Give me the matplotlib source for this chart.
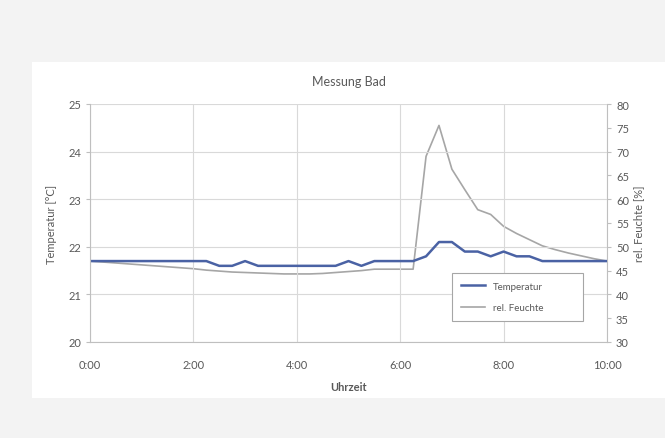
import numpy as np
import matplotlib
matplotlib.use("Agg")
import matplotlib.pyplot as plt
from matplotlib.patches import Rectangle

plt.rcParams['font.family'] = ['Lato', 'DejaVu Sans']

# Messwerte alle 15 Minuten
uhrzeit = ["0:00", "0:15", "0:30", "0:45", "1:00", "1:15", "1:30", "1:45",
           "2:00", "2:15", "2:30", "2:45", "3:00", "3:15", "3:30", "3:45",
           "4:00", "4:15", "4:30", "4:45", "5:00", "5:15", "5:30", "5:45",
           "6:00", "6:15", "6:30", "6:45", "7:00", "7:15", "7:30", "7:45",
           "8:00", "8:15", "8:30", "8:45", "9:00", "9:15", "9:30", "9:45",
           "10:00"]
temperatur = [21.7, 21.7, 21.7, 21.7, 21.7, 21.7, 21.7, 21.7,
              21.7, 21.7, 21.6, 21.6, 21.7, 21.6, 21.6, 21.6,
              21.6, 21.6, 21.6, 21.6, 21.7, 21.6, 21.7, 21.7,
              21.7, 21.7, 21.8, 22.1, 22.1, 21.9, 21.9, 21.8,
              21.9, 21.8, 21.8, 21.7, 21.7, 21.7, 21.7, 21.7,
              21.7]
feuchte = [47.0, 46.8, 46.6, 46.4, 46.2, 46.0, 45.8, 45.6,
           45.4, 45.1, 44.9, 44.7, 44.6, 44.5, 44.4, 44.3,
           44.3, 44.3, 44.4, 44.6, 44.8, 45.0, 45.3, 45.3,
           45.3, 45.3, 69.0, 75.5, 66.3, 62.0, 57.8, 56.8,
           54.3, 52.8, 51.5, 50.2, 49.4, 48.7, 48.1, 47.5,
           47.0]

x_ticks = [0, 2, 4, 6, 8, 10]
x_ticklabels = ["0:00", "2:00", "4:00", "6:00", "8:00", "10:00"]

stunden = np.array([int(t.split(":")[0]) + int(t.split(":")[1]) / 60 for t in uhrzeit])

txt = '#595959'
grid = '#d9d9d9'

fig = plt.figure(figsize=(6.65, 4.39), dpi=100)
fig.patch.set_facecolor('#f3f3f3')
# weisse Diagrammflaeche
fig.patches.append(Rectangle((32 / 665, 1 - 399 / 439), 1 - 32 / 665, (399 - 63) / 439,
                             transform=fig.transFigure, facecolor='white',
                             edgecolor='none', zorder=-5))

ax = fig.add_axes([90 / 665, 1 - 343 / 439, (607 - 90) / 665, (343 - 105) / 439])
ax2 = ax.twinx()
ax.set_zorder(ax2.get_zorder() + 1)
ax.patch.set_visible(False)
ax2.patch.set_visible(False)

l1, = ax.plot(stunden, temperatur, color='#4a62a4', linewidth=1.8, label='Temperatur')
l2, = ax2.plot(stunden, feuchte, color='#a6a6a6', linewidth=1.2, label='rel. Feuchte')

ax.set_xlim(0, 10)
ax.set_ylim(20, 25)
ax2.set_ylim(30, 80)
ax.set_xticks(x_ticks)
ax.set_xticklabels(x_ticklabels)
ax.set_yticks(range(20, 26))
ax2.set_yticks(range(30, 81, 5))

ax.grid(True, color=grid, linewidth=0.8)
ax.set_axisbelow(True)

for a in (ax, ax2):
    for s in a.spines.values():
        s.set_visible(False)
    a.tick_params(colors=txt, labelsize=8, length=3, width=0.8)
ax.spines['left'].set_visible(True)
ax.spines['bottom'].set_visible(True)
ax2.spines['right'].set_visible(True)
for s in (ax.spines['left'], ax.spines['bottom'], ax2.spines['right']):
    s.set_color('#bfbfbf')
ax.tick_params(axis='x', length=0, pad=12)
ax.tick_params(axis='y', color='#bfbfbf')
ax2.tick_params(axis='y', color='#bfbfbf')

ax.set_title('Messung Bad', fontsize=9, color=txt, pad=14)
ax.set_xlabel('Uhrzeit', fontsize=8, color=txt, fontweight='bold', labelpad=8)
ax.set_ylabel('Temperatur [°C]', fontsize=8, color=txt, labelpad=8)
ax2.set_ylabel('rel. Feuchte [%]', fontsize=8, color=txt, labelpad=3)

leg = ax.legend([l1, l2], ['Temperatur', 'rel. Feuchte'],
                loc='lower left', bbox_to_anchor=(357 / 517, 16 / 238, 141 / 517, 58 / 238),
                mode='expand', fancybox=False, framealpha=1, edgecolor='#a6a6a6',
                fontsize=7, handlelength=2.5, labelspacing=1.3, borderpad=0.9,
                labelcolor=txt)
leg.get_frame().set_linewidth(0.8)

fig.savefig('out.png', dpi=100, facecolor=fig.get_facecolor())
